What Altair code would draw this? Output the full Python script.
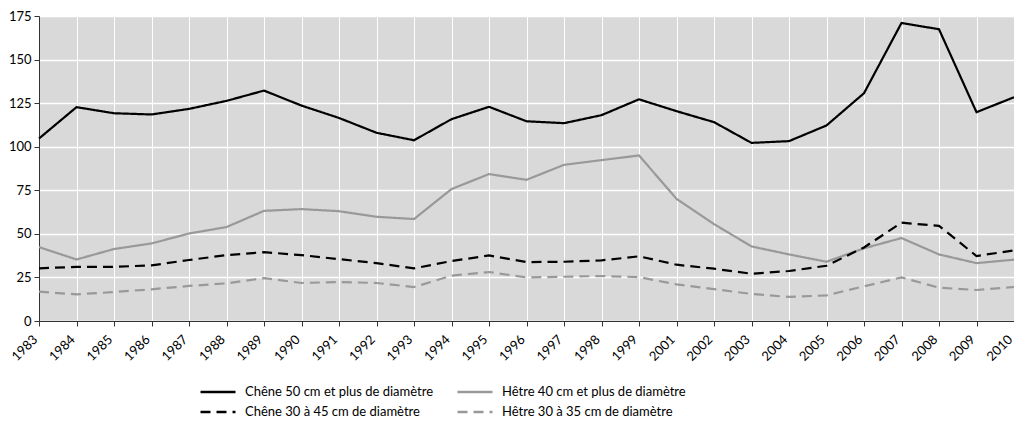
import altair as alt
import pandas as pd

years = ["1983", "1984", "1985", "1986", "1987", "1988", "1989", "1990", "1991",
         "1992", "1993", "1994", "1995", "1996", "1997", "1998", "1999", "2001",
         "2002", "2003", "2004", "2005", "2006", "2007", "2008", "2009", "2010"]

chene_50 = [104.7, 122.7, 119.2, 118.5, 121.7, 126.3, 132.2, 123.6, 116.5, 108.0,
            103.7, 115.8, 122.9, 114.6, 113.5, 118.1, 127.2, 120.4, 114.1, 102.2,
            103.2, 112.2, 130.7, 171.0, 167.4, 119.8, 128.4]
hetre_40 = [42.4, 35.3, 41.3, 44.5, 50.2, 53.9, 63.2, 64.2, 63.0, 59.8,
            58.5, 75.7, 84.3, 81.0, 89.6, 92.3, 95.0, 70.1, 55.6, 42.8,
            38.2, 34.0, 41.7, 47.6, 38.2, 33.2, 35.2]
chene_30 = [30.2, 31.1, 31.1, 31.9, 35.0, 37.8, 39.5, 37.8, 35.5, 33.2,
            30.2, 34.4, 37.6, 33.8, 34.0, 34.8, 37.1, 32.3, 30.0, 27.1,
            28.7, 31.7, 42.2, 56.4, 54.6, 37.3, 40.5]
hetre_30 = [16.8, 15.3, 16.6, 18.2, 20.1, 21.6, 24.6, 21.8, 22.4, 21.8,
            19.5, 26.0, 28.1, 25.0, 25.4, 25.8, 25.2, 21.0, 18.3, 15.5,
            13.8, 14.7, 19.9, 25.0, 19.1, 17.8, 19.5]

series_names = ["Chêne 50 cm et plus de diamètre",
                "Hêtre 40 cm et plus de diamètre",
                "Chêne 30 à 45 cm de diamètre",
                "Hêtre 30 à 35 cm de diamètre"]
series_values = [chene_50, hetre_40, chene_30, hetre_30]
series_colors = ["#000000", "#999999", "#000000", "#999999"]
series_dash = [[1, 0], [1, 0], [10, 6], [10, 6]]

rows = []
for name, vals in zip(series_names, series_values):
    for y, v in zip(years, vals):
        rows.append({"year": y, "value": v, "series": name})
df = pd.DataFrame(rows)

FONT = "Lato"

chart = alt.Chart(df).mark_line(strokeWidth=2.2).encode(
    x=alt.X("year:O", sort=years,
            scale=alt.Scale(type="point", padding=0),
            axis=alt.Axis(title=None, labelAngle=-45, labelAlign="right",
                          labelBaseline="middle", labelFontSize=13,
                          labelPadding=11, labelOffset=-4, tickSize=5, grid=True,
                          gridColor="white", gridWidth=1,
                          domainColor="#333333", tickColor="#333333",
                          labelColor="#000000")),
    y=alt.Y("value:Q",
            scale=alt.Scale(domain=[0, 175], nice=False),
            axis=alt.Axis(title=None, values=[0, 25, 50, 75, 100, 125, 150, 175],
                          labelFontSize=13, tickSize=5, labelPadding=3,
                          grid=True, gridColor="white", gridWidth=1.5,
                          domainColor="#333333", tickColor="#333333",
                          labelColor="#000000")),
    color=alt.Color("series:N", sort=series_names,
                    scale=alt.Scale(domain=series_names, range=series_colors),
                    legend=alt.Legend(title=None, orient="none", legendX=169,
                                      legendY=366, columns=2, direction="horizontal",
                                      symbolType="M-2,0H2",
                                      symbolSize=306, symbolStrokeWidth=2.5,
                                      labelFontSize=13, labelOffset=17,
                                      labelLimit=0,
                                      columnPadding=18, rowPadding=3,
                                      labelColor="#000000")),
    strokeDash=alt.StrokeDash("series:N", sort=series_names,
                              scale=alt.Scale(domain=series_names, range=series_dash),
                              legend=None),
).properties(
    width=975, height=305,
    autosize=alt.AutoSizeParams(type="none"),
    padding={"left": 31, "top": 8, "right": 0, "bottom": 98},
).configure(
    font=FONT
).configure_view(
    fill="#d9d9d9", stroke=None
)

chart.save("out.html", embed_options={"renderer": "svg", "actions": False})
